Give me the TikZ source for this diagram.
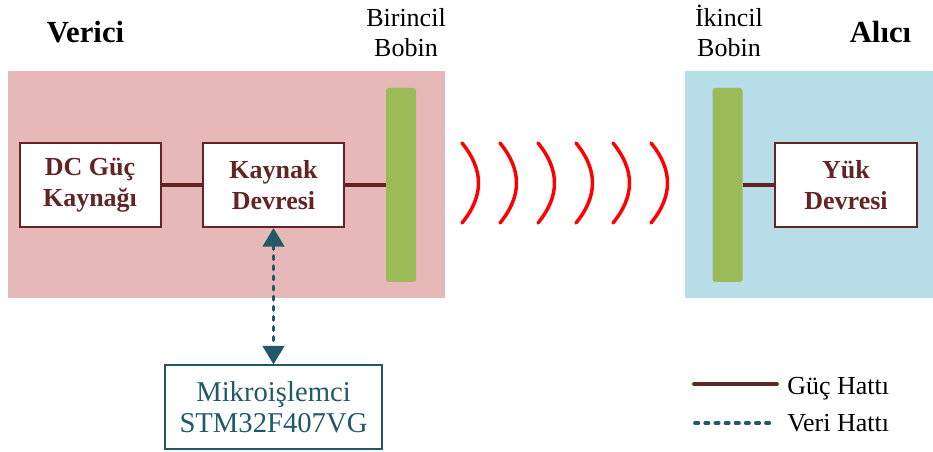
\documentclass[tikz,border=0pt]{standalone}
\usepackage{fontspec}
\setmainfont{Liberation Serif}
\usetikzlibrary{arrows.meta,positioning}
\definecolor{txpink}{HTML}{E6B9B8}
\definecolor{rxblue}{HTML}{B7DEE8}
\definecolor{coilgreen}{HTML}{9BBB59}
\definecolor{powerbrown}{HTML}{632523}
\definecolor{datateal}{HTML}{215968}
\definecolor{fieldred}{HTML}{FF0000}
\tikzset{
  blockbox/.style={draw=powerbrown,line width=1.5pt,fill=white,text=powerbrown,align=center,
    minimum width=105.75pt,minimum height=63pt,inner sep=0pt,
    font=\bfseries\fontsize{19.5pt}{23.25pt}\selectfont},
  mcubox/.style={draw=datateal,line width=1.5pt,fill=white,text=datateal,align=center,
    minimum width=162.75pt,minimum height=63pt,inner sep=0pt,
    font=\fontsize{21.5pt}{23.25pt}\selectfont},
  coil/.style={fill=coilgreen,rounded corners=2pt,minimum width=22.5pt,minimum height=145.5pt,inner sep=0pt},
  powerline/.style={powerbrown,line width=2.8pt},
  dataline/.style={datateal,line width=2.7pt,line cap=round,dash pattern=on 2.6pt off 5pt},
  wave/.style={fieldred,line width=2.6pt,line cap=round},
  sidetitle/.style={anchor=base,inner sep=0pt,font=\bfseries\fontsize{23pt}{27pt}\selectfont},
  coillabel/.style={align=center,inner sep=0pt,font=\fontsize{19.5pt}{22.5pt}\selectfont},
  legendtext/.style={anchor=base west,inner sep=0pt,font=\fontsize{19.5pt}{22pt}\selectfont}
}
\begin{document}
\begin{tikzpicture}[x=0.75pt,y=-0.75pt]
  \useasboundingbox (0,0) rectangle (933,452);
  % transmitter and receiver areas
  \fill[txpink] (8,71) rectangle (445,298);
  \fill[rxblue] (685,71) rectangle (933,298);
  \node[sidetitle] (verici) at (85.5,43) {Verici};
  \node[sidetitle] (alici) at (880.5,43) {Alıcı};
  % coils
  \node[coil] (coil1) at (401,185) {};
  \node[coil] (coil2) at (727.5,185) {};
  \node[coillabel] (coil1lbl) at (406,33) {Birincil\\Bobin};
  \node[coillabel] (coil2lbl) at (729,31) {İkincil\\Bobin};
  % blocks
  \node[blockbox] (dcsrc) at (90,185) {DC Güç\\Kaynağı};
  \node[blockbox] (kaynak) at (273.5,185) {Kaynak\\Devresi};
  \node[blockbox,minimum width=106.5pt] (yuk) at (846,185) {Yük\\Devresi};
  \node[mcubox] (mcu) at (273.5,407.5) {Mikroişlemci\\STM32F407VG};
  \draw[powerline] (dcsrc) -- (kaynak);
  \draw[powerline] (kaynak) -- (coil1);
  \draw[powerline] (coil2) -- (yuk);
  \draw[dataline,{Triangle[width=16pt,length=14pt]}-{Triangle[width=16pt,length=14pt]}] (kaynak) -- (mcu);
  % field between the coils
  \foreach \x in {462,500,538,576,613,651}{
    \draw[wave] (\x,143) .. controls (\x+22,170) and (\x+22,196) .. (\x,223);
  }
  % legend
  \coordinate (gucA) at (694,384);
  \coordinate (gucB) at (777,384);
  \coordinate (veriA) at (695,423);
  \coordinate (veriB) at (772,423);
  \draw[powerline,line cap=round] (gucA) -- (gucB);
  \draw[dataline] (veriA) -- (veriB);
  \node[legendtext] (guclbl) at (787,395) {Güç Hattı};
  \node[legendtext] (verilbl) at (787,432) {Veri Hattı};
\end{tikzpicture}
\end{document}
